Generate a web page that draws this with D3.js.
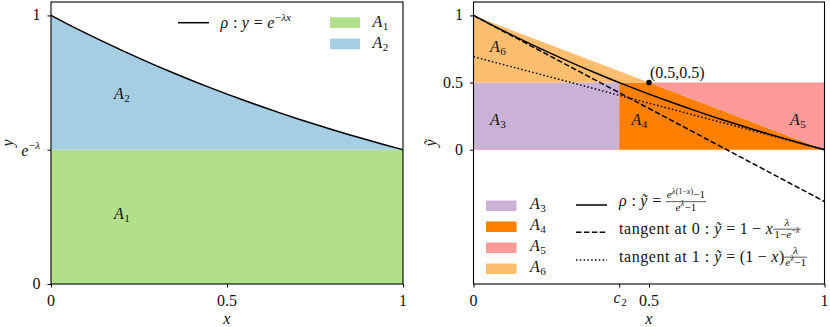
<!DOCTYPE html>
<html><head><meta charset="utf-8">
<script src="https://cdn.jsdelivr.net/npm/d3@7"></script>
<style>
body{margin:0;background:#fff;}
svg text{fill:#111;white-space:pre;}
</style></head>
<body><svg id="chart" width="830" height="327" font-family="Liberation Serif, DejaVu Serif, serif"></svg>
<script>
// ---------- data ----------
const eNegLambda = 0.5;               // e^{-λ}
const c2 = 0.415;
const xSamples = [0,0.05,0.1,0.15,0.2,0.25,0.3,0.35,0.4,0.45,0.5,0.55,0.6,0.65,0.7,0.75,0.8,0.85,0.9,0.95,1];
const rhoLeft  = [1,0.9659,0.9330,0.9013,0.8706,0.8409,0.8123,0.7846,0.7579,0.7320,0.7071,0.6830,0.6598,0.6373,0.6156,0.5946,0.5743,0.5548,0.5359,0.5176,0.5];
const rhoRight = [1,0.9319,0.8661,0.8025,0.7411,0.6818,0.6245,0.5692,0.5157,0.4641,0.4142,0.3660,0.3195,0.2746,0.2311,0.1892,0.1487,0.1095,0.0718,0.0353,0];
const tangent0 = [[0,1],[1,-0.386]];
const tangent1 = [[0,0.693],[1,0]];
const regionA3 = [[0,0],[0,0.5],[c2,0.5],[c2,0]];
const regionA4 = [[c2,0],[c2,0.5],[0.5,0.5],[1,0]];
const regionA5 = [[0.5,0.5],[1,0.5],[1,0]];
const regionA6 = [[0,0.5],[0,1],[0.5,0.5]];
const point = [0.5,0.5];
const leftXTicks = [0,0.5,1];
const leftYTicks = [0,eNegLambda,1];
const rightXTicks = [0,c2,0.5,1];
const rightYTicks = [0,0.5,1];
const colors = {A1:"#b2df8a",A2:"#a6cee3",A3:"#cab2d6",A4:"#ff7f00",A5:"#fb9a99",A6:"#fdbf6f"};

// ---------- setup ----------
const FONT = "'Liberation Serif', 'DejaVu Serif', serif";
const svg = d3.select("#chart");
const FS = 16;
const xL = d3.scaleLinear([0,1],[51,403]);
const yL = d3.scaleLinear([0,1.05],[284,2]);
const xR = d3.scaleLinear([0,1],[473.5,824.5]);
const yR = d3.scaleLinear([-1,1.1],[284,2]);

function mathRun(g, x, base, pieces, size){
  let cx = x;
  for(const p of pieces){
    if(p.frac){
      const fs = size*0.7;
      const bar = base - 0.27*size;
      const gn = g.append("g"), gd = g.append("g");
      const wn = mathRun(gn,0,0,p.frac[0],fs);
      const wd = mathRun(gd,0,0,p.frac[1],fs);
      const w = Math.max(wn,wd)+2;
      gn.attr("transform",`translate(${cx+1+(w-2-wn)/2},${bar-0.2*size})`);
      gd.attr("transform",`translate(${cx+1+(w-2-wd)/2},${bar+0.56*size})`);
      g.append("line").attr("x1",cx).attr("x2",cx+w).attr("y1",bar).attr("y2",bar)
        .attr("stroke","#111").attr("stroke-width",0.7);
      cx += w+1;
    } else {
      let fs=size, by=base;
      if(p.sup){fs=size*0.7; by=base-size*0.42;}
      if(p.sub){fs=size*0.7; by=base+size*0.2;}
      const ls = (/[a-z]{2}/.test(p.t) && !p.it) ? 0.55 : (/ /.test(p.t) ? 0.25 : 0);
      const t = g.append("text").attr("x",cx).attr("y",by).attr("font-size",fs)
        .attr("font-family",FONT).attr("xml:space","preserve")
        .attr("letter-spacing",ls)
        .attr("font-style",p.it?"italic":"normal").text(p.t);
      cx += t.node().getComputedTextLength() + (p.it ? size*0.03 : 0);
    }
  }
  return cx-x;
}
function mathAt(parent, x, base, pieces, size, anchor){
  const g = parent.append("g");
  const w = mathRun(g,0,base,pieces,size);
  let dx = x;
  if(anchor==="end") dx = x-w;
  if(anchor==="middle") dx = x-w/2;
  g.attr("transform",`translate(${dx},0)`);
  return w;
}
const A = n => [{t:"A",it:true},{t:String(n),sub:true}];

// ---------- LEFT PANEL ----------
const gl = svg.append("g");
gl.append("rect").attr("x",xL(0)).attr("y",yL(eNegLambda)).attr("width",xL(1)-xL(0))
  .attr("height",yL(0)-yL(eNegLambda)).attr("fill",colors.A1);
const leftPts = xSamples.map((x,i)=>[x,rhoLeft[i]]);
const areaL = d3.area().x(d=>xL(d[0])).y0(yL(eNegLambda)).y1(d=>yL(d[1])).curve(d3.curveMonotoneX);
gl.append("path").datum(leftPts).attr("d",areaL).attr("fill",colors.A2);
const lineL = d3.line().x(d=>xL(d[0])).y(d=>yL(d[1])).curve(d3.curveMonotoneX);
gl.append("path").datum(leftPts).attr("d",lineL).attr("fill","none").attr("stroke","#000").attr("stroke-width",1.5);

mathAt(gl, 114, 99, A(2), FS);
mathAt(gl, 114, 219, A(1), FS);

gl.append("line").attr("x1",178).attr("x2",209).attr("y1",22.7).attr("y2",22.7).attr("stroke","#000").attr("stroke-width",1.5);
mathAt(gl, 220.5, 27.5, [{t:"ρ",it:true},{t:" : "},{t:"y",it:true},{t:" = "},{t:"e",it:true},{t:"−",sup:true},{t:"λx",it:true,sup:true}], FS);
gl.append("rect").attr("x",330).attr("y",17.3).attr("width",30).attr("height",10.7).attr("fill",colors.A1);
gl.append("rect").attr("x",330).attr("y",38.6).attr("width",30).attr("height",10.7).attr("fill",colors.A2);
mathAt(gl, 372.5, 26.8, A(1), FS);
mathAt(gl, 372.5, 48, A(2), FS);

const axLx = gl.append("g").attr("transform",`translate(0,${yL(0)})`)
  .call(d3.axisBottom(xL).tickValues(leftXTicks).tickSize(3.5).tickFormat(()=>""));
const axLy = gl.append("g").attr("transform",`translate(${xL(0)},0)`)
  .call(d3.axisLeft(yL).tickValues(leftYTicks).tickSize(3.5).tickFormat(()=>""));
[axLx,axLy].forEach(a=>{a.select(".domain").remove(); a.selectAll("line").attr("stroke","#000").attr("stroke-width",1);});
gl.append("rect").attr("x",xL(0)).attr("y",yL(1.05)).attr("width",xL(1)-xL(0)).attr("height",yL(0)-yL(1.05))
  .attr("fill","none").attr("stroke","#000").attr("stroke-width",1.1);
leftXTicks.forEach(v=>mathAt(gl, xL(v), 306, [{t:String(v)}], FS, "middle"));
mathAt(gl, xL(0)-10.5, yL(0)+5, [{t:"0"}], FS, "end");
mathAt(gl, xL(0)-10.5, yL(1)+5, [{t:"1"}], FS, "end");
mathAt(gl, xL(0)-10.5, yL(eNegLambda)+6, [{t:"e",it:true},{t:"−",sup:true},{t:"λ",it:true,sup:true}], FS, "end");
mathAt(gl, xL(0.5), 324, [{t:"x",it:true}], FS, "middle");
gl.append("text").attr("transform","translate(13,143) rotate(-90)").attr("text-anchor","middle")
  .attr("font-family",FONT).attr("font-size",FS).attr("font-style","italic").text("y");

// ---------- RIGHT PANEL ----------
const gr = svg.append("g");
const poly = d=>"M"+d.map(p=>[xR(p[0]),yR(p[1])].join(",")).join("L")+"Z";
gr.append("path").attr("d",poly(regionA3)).attr("fill",colors.A3);
gr.append("path").attr("d",poly(regionA4)).attr("fill",colors.A4);
gr.append("path").attr("d",poly(regionA5)).attr("fill",colors.A5);
gr.append("path").attr("d",poly(regionA6)).attr("fill",colors.A6);
gr.append("line").attr("x1",xR(0)).attr("x2",xR(c2)).attr("y1",yR(0)).attr("y2",yR(0))
  .attr("stroke",colors.A5).attr("stroke-width",1).attr("opacity",0.5);

const rightPts = xSamples.map((x,i)=>[x,rhoRight[i]]);
const lineR = d3.line().x(d=>xR(d[0])).y(d=>yR(d[1])).curve(d3.curveMonotoneX);
gr.append("path").datum(rightPts).attr("d",lineR).attr("fill","none").attr("stroke","#000").attr("stroke-width",1.5);
const lineStraight = d3.line().x(d=>xR(d[0])).y(d=>yR(d[1]));
gr.append("path").datum(tangent0).attr("d",lineStraight).attr("fill","none").attr("stroke","#000").attr("stroke-width",1.5).attr("stroke-dasharray","5.5,2.4");
gr.append("path").datum(tangent1).attr("d",lineStraight).attr("fill","none").attr("stroke","#000").attr("stroke-width",1.5).attr("stroke-dasharray","1.5,2.3");
gr.append("circle").attr("cx",xR(point[0])).attr("cy",yR(point[1])).attr("r",2.8).attr("fill","#000");
mathAt(gr, 650, 77.5, [{t:"(0.5,0.5)"}], FS);

mathAt(gr, 490, 52, A(6), FS);
mathAt(gr, 490, 125, A(3), FS);
mathAt(gr, 631.5, 125, A(4), FS);
mathAt(gr, 790, 125, A(5), FS);

[["A3",200.5,3],["A4",221.5,4],["A5",242.5,5],["A6",263.5,6]].forEach(([k,y,n])=>{
  gr.append("rect").attr("x",486).attr("y",y).attr("width",30.5).attr("height",10.5).attr("fill",colors[k]);
  mathAt(gr, 530, y+8, A(n), FS);
});
gr.append("line").attr("x1",576).attr("x2",607).attr("y1",205).attr("y2",205).attr("stroke","#000").attr("stroke-width",1.5);
gr.append("line").attr("x1",576).attr("x2",607).attr("y1",232.3).attr("y2",232.3).attr("stroke","#000").attr("stroke-width",1.5).attr("stroke-dasharray","5.5,2.4");
gr.append("line").attr("x1",576).attr("x2",607).attr("y1",260).attr("y2",260).attr("stroke","#000").attr("stroke-width",1.5).attr("stroke-dasharray","1.5,2.3");
const yt = {t:"ỹ",it:true};
mathAt(gr, 619, 206, [{t:"ρ",it:true},{t:" : "},yt,{t:" = "},
  {frac:[[{t:"e",it:true},{t:"λ",it:true,sup:true},{t:"(1−",sup:true},{t:"x",it:true,sup:true},{t:")",sup:true},{t:"−1"}],
         [{t:"e",it:true},{t:"λ",it:true,sup:true},{t:"−1"}]]}], FS);
mathAt(gr, 619, 233.5, [{t:"tangent at 0 : "},yt,{t:" = 1 − "},{t:"x",it:true},
  {frac:[[{t:"λ",it:true}],[{t:"1−"},{t:"e",it:true},{t:"−",sup:true},{t:"λ",it:true,sup:true}]]}], FS);
mathAt(gr, 619, 261.5, [{t:"tangent at 1 : "},yt,{t:" = (1 − "},{t:"x",it:true},{t:")"},
  {frac:[[{t:"λ",it:true}],[{t:"e",it:true},{t:"λ",it:true,sup:true},{t:"−1"}]]}], FS);

const axRx = gr.append("g").attr("transform",`translate(0,${yR(-1)})`)
  .call(d3.axisBottom(xR).tickValues(rightXTicks).tickSize(3.5).tickFormat(()=>""));
const axRy = gr.append("g").attr("transform",`translate(${xR(0)},0)`)
  .call(d3.axisLeft(yR).tickValues(rightYTicks).tickSize(3.5).tickFormat(()=>""));
[axRx,axRy].forEach(a=>{a.select(".domain").remove(); a.selectAll("line").attr("stroke","#000").attr("stroke-width",1);});
gr.append("rect").attr("x",xR(0)).attr("y",yR(1.1)).attr("width",xR(1)-xR(0)).attr("height",yR(-1)-yR(1.1))
  .attr("fill","none").attr("stroke","#000").attr("stroke-width",1.1);
[0,0.5,1].forEach(v=>mathAt(gr, xR(v), 306, [{t:String(v)}], FS, "middle"));
mathAt(gr, xR(c2)+1, 303, [{t:"c",it:true},{t:"2",sub:true}], FS, "middle");
rightYTicks.forEach(v=>mathAt(gr, xR(0)-10.5, yR(v)+5, [{t:String(v)}], FS, "end"));
mathAt(gr, xR(0.5), 324, [{t:"x",it:true}], FS, "middle");
gr.append("text").attr("transform","translate(436,143) rotate(-90)").attr("text-anchor","middle")
  .attr("font-family",FONT).attr("font-size",FS).attr("font-style","italic").text("ỹ");
</script></body></html>
